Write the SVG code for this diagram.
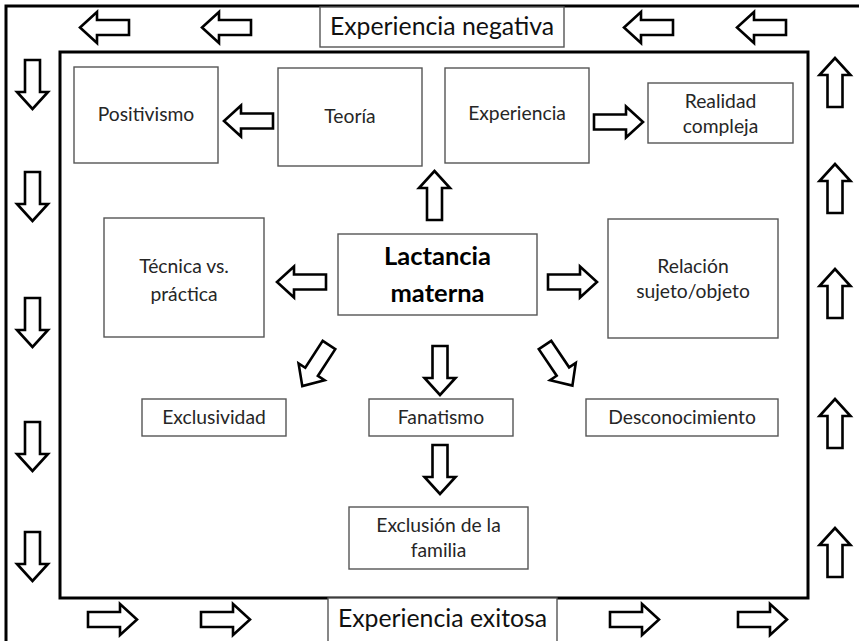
<svg xmlns="http://www.w3.org/2000/svg" xmlns:xlink="http://www.w3.org/1999/xlink" width="859" height="641" viewBox="0 0 859 641">
<style>
.frame{fill:none;stroke:#000;stroke-width:3}
.box{fill:#fff;stroke:#555;stroke-width:1.4}
.lbl{font-family:Lato,"Liberation Sans",sans-serif;font-size:19.3px;fill:#262626;text-anchor:middle}
.big{font-family:Lato,"Liberation Sans",sans-serif;font-size:24.8px;fill:#111;text-anchor:middle}
.bold{font-family:Lato,"Liberation Sans",sans-serif;font-size:25.5px;font-weight:bold;fill:#000;text-anchor:middle}
.arr{fill:#fff;stroke:#000;stroke-width:2.6;stroke-linejoin:miter}
</style>
<defs>
<path id="ar" d="M0,-7.5 H32 V-15.5 L49,0 L32,15.5 V7.5 H0 Z"/>
</defs>
<rect width="859" height="641" fill="#fff"/>
<g id="frames">
<rect class="frame" x="6" y="6" width="860" height="645"/>
<rect class="frame" x="60" y="52" width="748" height="546"/>
</g>
<g id="connectors">
<use href="#ar" class="arr" transform="translate(129,27.5) rotate(180)"/>
<use href="#ar" class="arr" transform="translate(251,27.5) rotate(180)"/>
<use href="#ar" class="arr" transform="translate(673,27.5) rotate(180)"/>
<use href="#ar" class="arr" transform="translate(786,27.5) rotate(180)"/>
<use href="#ar" class="arr" transform="translate(88,619.5)"/>
<use href="#ar" class="arr" transform="translate(201,619.5)"/>
<use href="#ar" class="arr" transform="translate(610,619.5)"/>
<use href="#ar" class="arr" transform="translate(738,619.5)"/>
<use href="#ar" class="arr" transform="translate(32.5,60) rotate(90)"/>
<use href="#ar" class="arr" transform="translate(32.5,172) rotate(90)"/>
<use href="#ar" class="arr" transform="translate(32.5,298) rotate(90)"/>
<use href="#ar" class="arr" transform="translate(32.5,422) rotate(90)"/>
<use href="#ar" class="arr" transform="translate(32.5,532) rotate(90)"/>
<use href="#ar" class="arr" transform="translate(835,107) rotate(-90)"/>
<use href="#ar" class="arr" transform="translate(835,213) rotate(-90)"/>
<use href="#ar" class="arr" transform="translate(835,318) rotate(-90)"/>
<use href="#ar" class="arr" transform="translate(835,448) rotate(-90)"/>
<use href="#ar" class="arr" transform="translate(835,577) rotate(-90)"/>
<use href="#ar" class="arr" transform="translate(273,121) rotate(180)"/>
<use href="#ar" class="arr" transform="translate(594,122)"/>
<use href="#ar" class="arr" transform="translate(434.5,220) rotate(-90)"/>
<use href="#ar" class="arr" transform="translate(326,282) rotate(180)"/>
<use href="#ar" class="arr" transform="translate(548,282)"/>
<use href="#ar" class="arr" transform="translate(440,346) rotate(90)"/>
<use href="#ar" class="arr" transform="translate(440,445) rotate(90)"/>
<use href="#ar" class="arr" transform="translate(329,345) rotate(123)"/>
<use href="#ar" class="arr" transform="translate(545,345) rotate(56)"/>
</g>
<g id="neg"><rect class="box" x="320" y="7" width="244" height="40"/><text class="big" x="442" y="35">Experiencia negativa</text></g>
<g id="exi"><rect class="box" x="328" y="598" width="229" height="50"/><text class="big" x="442.5" y="627">Experiencia exitosa</text></g>
<g id="positivismo"><rect class="box" x="74" y="67" width="144" height="96"/><text class="lbl" x="146" y="121">Positivismo</text></g>
<g id="teoria"><rect class="box" x="278" y="68" width="144" height="98"/><text class="lbl" x="350" y="123">Teoría</text></g>
<g id="experiencia"><rect class="box" x="445" y="68" width="144" height="95"/><text class="lbl" x="517" y="120">Experiencia</text></g>
<g id="realidad"><rect class="box" x="648" y="83" width="145" height="60"/><text class="lbl" x="720.5" y="108">Realidad</text><text class="lbl" x="720.5" y="133">compleja</text></g>
<g id="tecnica"><rect class="box" x="104" y="218" width="160" height="119"/><text class="lbl" x="184" y="273">Técnica vs.</text><text class="lbl" x="184" y="301">práctica</text></g>
<g id="lactancia"><rect class="box" x="338" y="234" width="199" height="81"/><text class="bold" x="437.5" y="265">Lactancia</text><text class="bold" x="437.5" y="302">materna</text></g>
<g id="relacion"><rect class="box" x="608" y="219" width="170" height="119"/><text class="lbl" x="693" y="273">Relación</text><text class="lbl" x="693" y="298">sujeto/objeto</text></g>
<g id="exclusividad"><rect class="box" x="142" y="399" width="144" height="37"/><text class="lbl" x="214" y="424">Exclusividad</text></g>
<g id="fanatismo"><rect class="box" x="369" y="399" width="144" height="37"/><text class="lbl" x="441" y="424">Fanatismo</text></g>
<g id="desconocimiento"><rect class="box" x="586" y="399" width="192" height="37"/><text class="lbl" x="682" y="424">Desconocimiento</text></g>
<g id="exclusion"><rect class="box" x="349" y="507" width="179" height="62"/><text class="lbl" x="438.5" y="532">Exclusión de la</text><text class="lbl" x="438.5" y="557">familia</text></g>
</svg>
